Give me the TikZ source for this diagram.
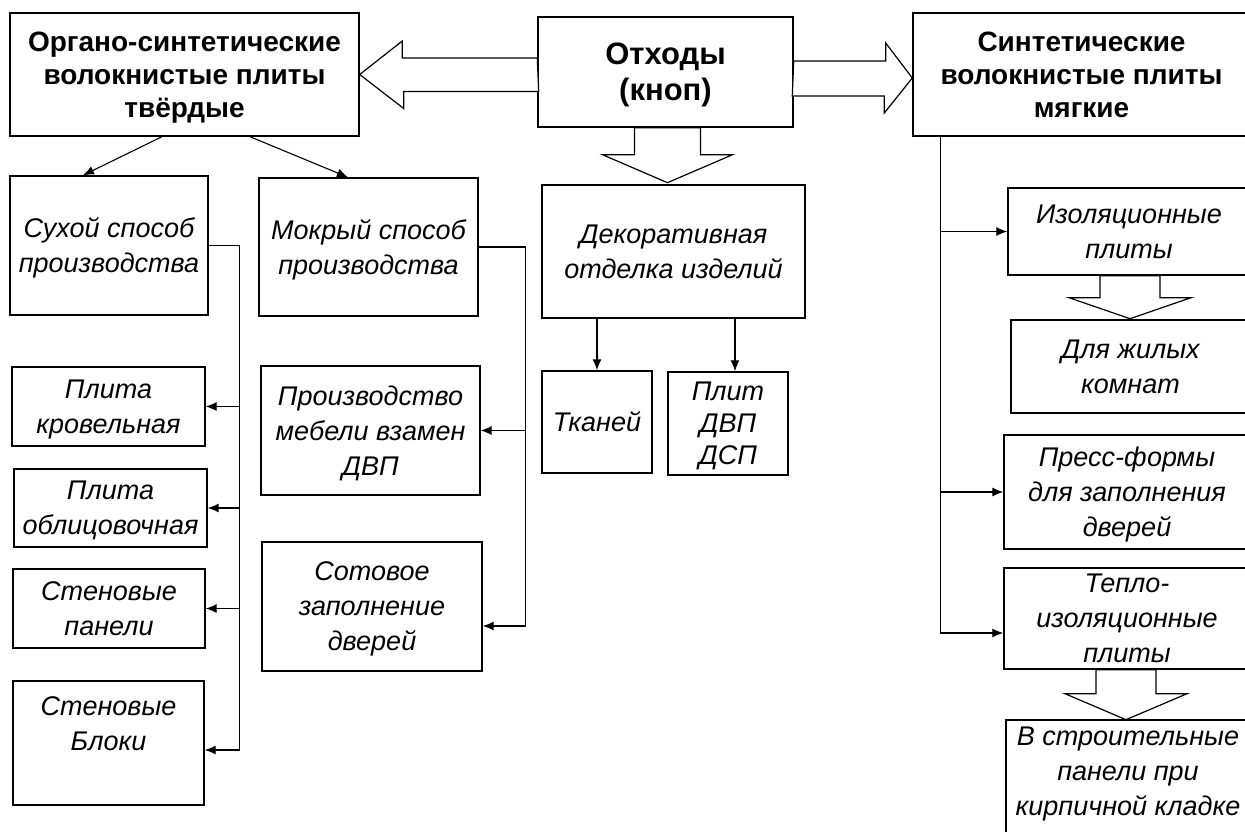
\documentclass[tikz,border=0pt]{standalone}
\usepackage{fontspec}
\setmainfont{Liberation Sans}
\usetikzlibrary{calc,arrows.meta}

\tikzset{
  box/.style={rectangle, draw, line width=1.4pt, align=center, inner sep=0pt, text depth=0pt,
    font=\fontsize{27}{35}\selectfont\itshape},
  headbox/.style={box, font=\fontsize{28}{33}\selectfont\bfseries},
  fat/.style={draw, fill=white, line width=1.2pt, line join=miter},
  link/.style={line width=1.1pt, -{Latex[length=11pt,width=9pt]}},
}

\begin{document}
\begin{tikzpicture}[x=1pt, y=-1pt]
    \path[use as bounding box, fill=white] (0,0) rectangle (1245,832);
    % Place nodes
    \node [headbox, minimum width=349pt, minimum height=123pt] (A) at (184.5,74.5) {Органо-синтетические\\волокнистые плиты\\твёрдые};
    \node [headbox, minimum width=255pt, minimum height=110pt, font=\fontsize{31}{36}\selectfont\bfseries] (waste) at (665.5,72) {Отходы\\(кноп)};
    \node [headbox, minimum width=337pt, minimum height=123pt] (synth) at (1081.5,74.5) {Синтетические\\волокнистые плиты\\мягкие};
    % hard boards
    \node [box, minimum width=198pt, minimum height=139pt] (dry) at (109,245.5) {Сухой способ\\производства};
    \node [box, minimum width=219pt, minimum height=138pt] (wet) at (368.5,247) {Мокрый способ\\производства};
    \node [box, minimum width=193pt, minimum height=79pt] (roof) at (108.5,406.5) {Плита\\кровельная};
    \node [box, minimum width=193pt, minimum height=78pt] (face) at (110.5,508) {Плита\\облицовочная};
    \node [box, minimum width=192pt, minimum height=79pt] (panel) at (109,608.5) {Стеновые\\панели};
    \node [box, minimum width=191pt, minimum height=124pt, text depth=38pt] (block) at (108.5,743) {Стеновые\\Блоки};
    \node [box, minimum width=219pt, minimum height=129pt] (furn) at (370.5,430.5) {Производство\\мебели взамен\\ДВП};
    \node [box, minimum width=220pt, minimum height=129pt] (comb) at (372,606.5) {Сотовое\\заполнение\\дверей};
    % decoration
    \node [box, minimum width=263pt, minimum height=133pt] (deco) at (673.5,251.5) {Декоративная\\отделка изделий};
    \node [box, minimum width=110pt, minimum height=102pt] (tkan) at (597,422) {Тканей};
    \node [box, minimum width=120pt, minimum height=103pt, font=\fontsize{27}{32}\selectfont\itshape] (ptb) at (728,423.5) {Плит\\ДВП\\ДСП};
    % soft boards
    \node [box, minimum width=242pt, minimum height=87pt] (isol) at (1129,231.5) {Изоляционные\\плиты};
    \node [box, minimum width=239pt, minimum height=93pt] (room) at (1130.5,366.5) {Для жилых\\комнат};
    \node [box, minimum width=246pt, minimum height=114pt] (press) at (1127,492) {Пресс-формы\\для заполнения\\дверей};
    \node [box, minimum width=246pt, minimum height=101pt] (heat) at (1127,618.5) {Тепло-\\изоляционные\\плиты};
    \node [box, minimum width=244pt, minimum height=114pt, text depth=12pt] (build) at (1128,777) {В строительные\\панели при\\кирпичной кладке};
    \coordinate (dbus) at ($(dry.east)+(31,0)$);
    \coordinate (wbus) at ($(wet.east)+(47,0)$);
    \coordinate (sbus) at ($(synth.south west)+(28,0)$);
    % big arrows
    \path[fat] (waste.west) ++(0,-14) -- ++(-135,0) -- ++(0,-17) -- (A.east) -- ++(44,34) -- ++(0,-17) -- ++(135,0) -- cycle;
    \path[fat] (waste.east) ++(0,-11) -- ++(92,0) -- ++(0,-18) -- ($(synth.west)+(0,3.5)$) -- ++(-28,35) -- ++(0,-17) -- ++(-92,0) -- cycle;
    \path[fat] (waste.south) ++(-31,0) -- ++(0,27) -- ++(-32,0) -- ++(65,28) -- ++(65,-28) -- ++(-32,0) -- ++(0,-27) -- cycle;
    \path[fat] (isol.south) ++(-29,0) -- ++(0,22) -- ++(-31,0) -- ++(61,21) -- ++(61,-21) -- ++(-31,0) -- ++(0,-22) -- cycle;
    \path[fat] (heat.south) ++(-31,0) -- ++(0,24) -- ++(-31,0) -- ++(61,26) -- ++(61,-26) -- ++(-31,0) -- ++(0,-24) -- cycle;
    % thin arrows
    \path[draw, link] ($(A.south)+(-22.5,0)$) -- ($(dry.north)+(-26,0)$);
    \path[draw, link] ($(A.south)+(65.5,0)$) -- ($(wet.north)+(-20.5,0)$);
    \path[draw, link] (dry.east) -- (dbus) |- ($(block.east)+(0,7)$);
    \path[draw, link] (dbus |- roof.east) -- (roof.east);
    \path[draw, link] (dbus |- face.east) -- (face.east);
    \path[draw, link] (dbus |- panel.east) -- (panel.east);
    \path[draw, link] (wet.east) -- (wbus) |- ($(comb.east)+(0,19.5)$);
    \path[draw, link] (wbus |- furn.east) -- (furn.east);
    \path[draw, link] (deco.south -| tkan.north) -- (tkan.north);
    \path[draw, link] ($(deco.south -| ptb.north)+(7,0)$) -- ($(ptb.north)+(7,0)$);
    \path[draw, link] (sbus) |- ($(heat.west)+(0,14.5)$);
    \path[draw, link] (sbus |- isol.west) -- (isol.west);
    \path[draw, link] (sbus |- press.west) -- (press.west);
\end{tikzpicture}
\end{document}
